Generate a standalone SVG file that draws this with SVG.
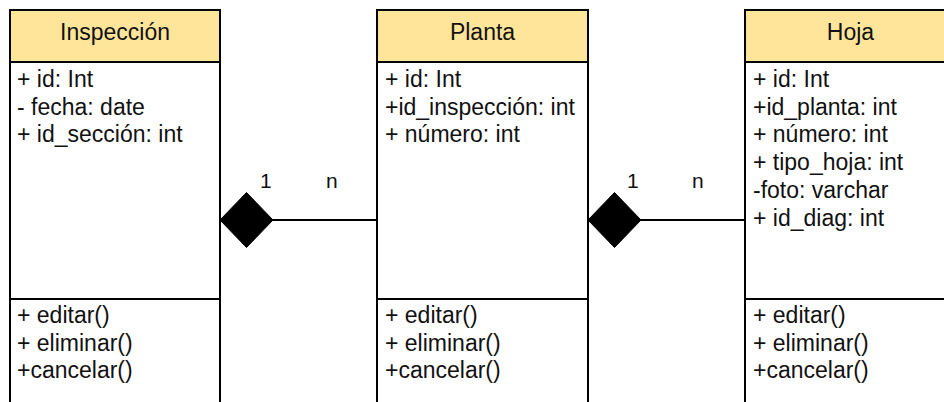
<svg xmlns="http://www.w3.org/2000/svg" width="944" height="402" viewBox="0 0 944 402">
  <style>
    .box { fill: #ffffff; stroke: #000000; stroke-width: 2; }
    .head { fill: #ffe599; stroke: #000000; stroke-width: 2; }
    .sep { stroke: #000000; stroke-width: 2; }
    text { font-family: "Liberation Sans", Arial, sans-serif; font-size: 23px; fill: #111111; }
    .title { text-anchor: middle; }
    .mult { font-size: 21px; }
    .link { stroke: #000000; stroke-width: 2; fill: none; }
    .diamond { fill: #000000; stroke: #000000; stroke-width: 1; }
  </style>

  <!-- associations (composition diamonds on the owning side) -->
  <g id="connectors">
    <line class="link" x1="272" y1="220" x2="377" y2="220"/>
    <polygon class="diamond" points="220,220 246.5,192.5 273,220 246.5,247.5"/>
    <text class="mult" x="260" y="188">1</text>
    <text class="mult" x="326" y="188">n</text>

    <line class="link" x1="640" y1="220" x2="745" y2="220"/>
    <polygon class="diamond" points="588,220 614.5,192.5 641,220 614.5,247.5"/>
    <text class="mult" x="627" y="188">1</text>
    <text class="mult" x="692" y="188">n</text>
  </g>

  <!-- class Inspección -->
  <g id="inspeccion">
    <rect class="box" x="10" y="10" width="210" height="420"/>
    <rect class="head" x="10" y="10" width="210" height="52"/>
    <line class="sep" x1="10" y1="299" x2="220" y2="299"/>
    <text class="title" x="115" y="40">Inspección</text>
    <text x="17" y="87">+ id: Int</text>
    <text x="17" y="115">- fecha: date</text>
    <text x="17" y="142">+ id_sección: int</text>
    <text x="17" y="323">+ editar()</text>
    <text x="17" y="351">+ eliminar()</text>
    <text x="17" y="378">+cancelar()</text>
  </g>

  <!-- class Planta -->
  <g id="planta">
    <rect class="box" x="377" y="10" width="211" height="420"/>
    <rect class="head" x="377" y="10" width="211" height="52"/>
    <line class="sep" x1="377" y1="299" x2="588" y2="299"/>
    <text class="title" x="482.5" y="40">Planta</text>
    <text x="385" y="87">+ id: Int</text>
    <text x="385" y="115">+id_inspección: int</text>
    <text x="385" y="142">+ número: int</text>
    <text x="385" y="323">+ editar()</text>
    <text x="385" y="351">+ eliminar()</text>
    <text x="385" y="378">+cancelar()</text>
  </g>

  <!-- class Hoja -->
  <g id="hoja">
    <rect class="box" x="745" y="10" width="211" height="420"/>
    <rect class="head" x="745" y="10" width="211" height="52"/>
    <line class="sep" x1="745" y1="299" x2="956" y2="299"/>
    <text class="title" x="850.5" y="40">Hoja</text>
    <text x="753" y="87">+ id: Int</text>
    <text x="753" y="115">+id_planta: int</text>
    <text x="753" y="142">+ número: int</text>
    <text x="753" y="170">+ tipo_hoja: int</text>
    <text x="753" y="198">-foto: varchar</text>
    <text x="753" y="226">+ id_diag: int</text>
    <text x="753" y="323">+ editar()</text>
    <text x="753" y="351">+ eliminar()</text>
    <text x="753" y="378">+cancelar()</text>
  </g>
</svg>
